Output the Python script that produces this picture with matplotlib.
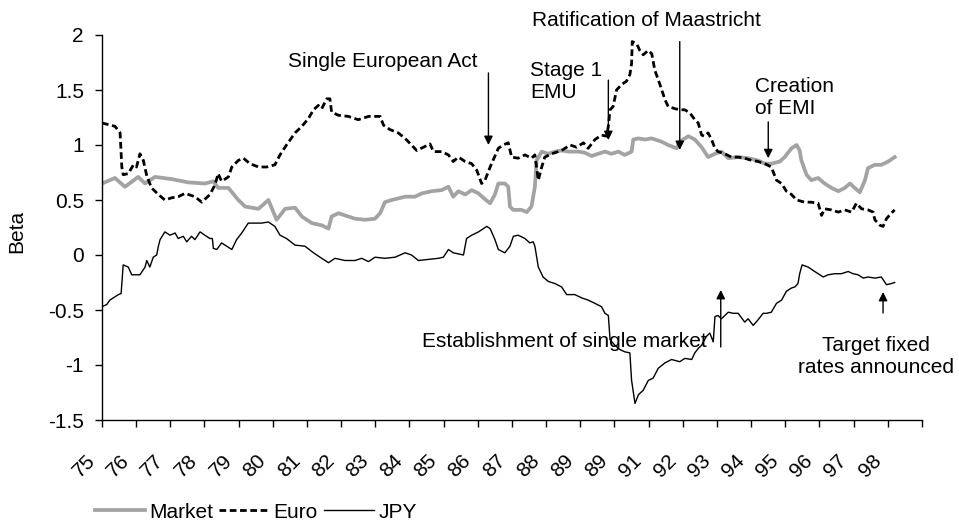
import matplotlib
matplotlib.use("Agg")
import matplotlib.pyplot as plt
import matplotlib.transforms as mtransforms
from matplotlib.lines import Line2D

plt.rcParams['font.family'] = ['Liberation Sans', 'DejaVu Sans']

# ---------------- data ----------------
year_ticks = list(range(75, 100))
year_labels = ['75', '76', '77', '78', '79', '80', '81', '82', '83', '84', '85',
               '86', '87', '88', '89', '89', '91', '92', '93', '94', '95', '96',
               '97', '98', '']

market_t = [75.00, 75.38, 75.67, 76.06, 76.26, 76.55, 77.04, 77.53, 78.01, 78.26,
            78.40, 78.70, 78.99, 79.19, 79.58, 79.87, 80.11, 80.36, 80.65, 80.85,
            81.14, 81.43, 81.63, 81.72, 81.92, 82.11, 82.41, 82.70, 82.99, 83.14,
            83.28, 83.48, 83.87, 84.16, 84.36, 84.65, 84.94, 85.14, 85.28, 85.43,
            85.63, 85.82, 86.02, 86.16, 86.36, 86.50, 86.60, 86.79, 86.89, 86.94,
            87.04, 87.28, 87.43, 87.57, 87.67, 87.72, 87.87, 88.06, 88.26, 88.45,
            88.65, 88.94, 89.13, 89.33, 89.52, 89.72, 89.91, 90.11, 90.30, 90.50,
            90.55, 90.70, 90.89, 91.09, 91.38, 91.57, 91.82, 91.91, 92.16, 92.35,
            92.55, 92.74, 92.94, 93.13, 93.33, 93.62, 93.91, 94.20, 94.40, 94.59,
            94.84, 94.98, 95.18, 95.33, 95.42, 95.47, 95.62, 95.76, 95.96, 96.15,
            96.35, 96.55, 96.74, 96.89, 97.03, 97.18, 97.33, 97.42, 97.62, 97.81,
            98.01, 98.20]
market_beta = [0.65, 0.70, 0.62, 0.71, 0.65, 0.71, 0.69, 0.66, 0.65, 0.67,
               0.61, 0.61, 0.50, 0.44, 0.42, 0.50, 0.32, 0.42, 0.43, 0.35,
               0.29, 0.27, 0.24, 0.35, 0.38, 0.36, 0.33, 0.32, 0.33, 0.38,
               0.48, 0.50, 0.53, 0.53, 0.56, 0.58, 0.59, 0.62, 0.53, 0.58,
               0.55, 0.59, 0.56, 0.52, 0.47, 0.55, 0.65, 0.65, 0.62, 0.44,
               0.41, 0.41, 0.39, 0.44, 0.62, 0.86, 0.94, 0.92, 0.94, 0.95,
               0.94, 0.94, 0.93, 0.90, 0.92, 0.94, 0.92, 0.94, 0.91, 0.94,
               1.05, 1.06, 1.05, 1.06, 1.03, 1.00, 0.97, 1.03, 1.08, 1.05,
               0.98, 0.89, 0.92, 0.94, 0.88, 0.89, 0.88, 0.86, 0.83, 0.83,
               0.85, 0.89, 0.97, 1.00, 0.95, 0.86, 0.73, 0.68, 0.70, 0.65,
               0.61, 0.58, 0.61, 0.65, 0.61, 0.57, 0.68, 0.79, 0.82, 0.82,
               0.85, 0.89]

euro_t = [75.00, 75.38, 75.53, 75.56, 75.58, 75.62, 75.77, 75.92, 76.01, 76.11,
          76.21, 76.31, 76.45, 76.65, 76.84, 77.04, 77.23, 77.43, 77.72, 77.92,
          78.16, 78.31, 78.40, 78.50, 78.70, 78.80, 78.99, 79.14, 79.33, 79.58,
          79.82, 80.06, 80.21, 80.40, 80.65, 80.85, 81.04, 81.19, 81.33, 81.43,
          81.58, 81.67, 81.72, 81.92, 82.21, 82.50, 82.80, 83.14, 83.24, 83.43,
          83.67, 83.87, 84.06, 84.21, 84.41, 84.60, 84.70, 84.94, 85.14, 85.28,
          85.43, 85.63, 85.82, 85.97, 86.11, 86.21, 86.36, 86.50, 86.60, 86.74,
          86.89, 86.99, 87.18, 87.38, 87.57, 87.67, 87.77, 87.87, 87.96, 88.16,
          88.45, 88.70, 88.89, 89.09, 89.23, 89.43, 89.62, 89.77, 89.82, 89.87,
          89.96, 90.06, 90.21, 90.35, 90.45, 90.50, 90.52, 90.65, 90.74, 90.84,
          90.99, 91.09, 91.18, 91.33, 91.48, 91.57, 91.77, 91.91, 92.06, 92.21,
          92.35, 92.45, 92.55, 92.64, 92.74, 92.84, 92.94, 93.03, 93.23, 93.42,
          93.62, 93.81, 94.01, 94.20, 94.40, 94.59, 94.74, 94.89, 95.03, 95.18,
          95.33, 95.57, 95.76, 95.96, 96.06, 96.15, 96.35, 96.55, 96.74, 96.94,
          97.08, 97.23, 97.42, 97.57, 97.62, 97.77, 97.86, 97.96, 98.10, 98.20]
euro_beta = [1.20, 1.17, 1.11, 0.92, 0.80, 0.73, 0.74, 0.82, 0.80, 0.92,
             0.86, 0.72, 0.61, 0.55, 0.50, 0.52, 0.53, 0.56, 0.53, 0.48,
             0.55, 0.64, 0.74, 0.67, 0.71, 0.80, 0.86, 0.88, 0.83, 0.80,
             0.80, 0.82, 0.91, 1.00, 1.11, 1.17, 1.24, 1.32, 1.36, 1.33,
             1.42, 1.42, 1.30, 1.27, 1.26, 1.23, 1.26, 1.26, 1.18, 1.14,
             1.11, 1.06, 1.00, 0.95, 0.98, 1.01, 0.94, 0.94, 0.91, 0.85,
             0.89, 0.85, 0.83, 0.77, 0.65, 0.68, 0.80, 0.90, 0.97, 1.00,
             1.02, 0.89, 0.88, 0.91, 0.88, 0.91, 0.68, 0.80, 0.89, 0.92,
             0.95, 1.00, 0.98, 1.02, 0.97, 1.05, 1.09, 1.08, 1.17, 1.32,
             1.35, 1.50, 1.55, 1.58, 1.64, 1.74, 1.94, 1.92, 1.86, 1.82,
             1.86, 1.83, 1.68, 1.55, 1.41, 1.35, 1.33, 1.32, 1.32, 1.29,
             1.23, 1.20, 1.09, 1.08, 1.11, 1.05, 0.97, 0.94, 0.92, 0.89,
             0.89, 0.88, 0.86, 0.85, 0.83, 0.80, 0.68, 0.65, 0.58, 0.55,
             0.50, 0.48, 0.48, 0.47, 0.36, 0.42, 0.41, 0.39, 0.41, 0.39,
             0.47, 0.42, 0.41, 0.39, 0.32, 0.27, 0.26, 0.33, 0.38, 0.41]

jpy_t = [75.00, 75.14, 75.23, 75.48, 75.56, 75.62, 75.77, 75.87, 76.11, 76.26,
         76.31, 76.40, 76.50, 76.60, 76.65, 76.70, 76.84, 76.99, 77.14, 77.23,
         77.38, 77.48, 77.62, 77.72, 77.87, 78.01, 78.16, 78.23, 78.26, 78.36,
         78.50, 78.65, 78.80, 78.94, 79.09, 79.28, 79.48, 79.67, 79.87, 80.06,
         80.21, 80.40, 80.65, 80.94, 81.19, 81.43, 81.63, 81.82, 82.11, 82.41,
         82.60, 82.80, 82.99, 83.28, 83.58, 83.87, 84.06, 84.26, 84.55, 84.85,
         84.99, 85.14, 85.28, 85.58, 85.67, 85.82, 86.02, 86.26, 86.36, 86.50,
         86.60, 86.79, 86.94, 87.04, 87.18, 87.38, 87.52, 87.62, 87.67, 87.77,
         87.91, 88.06, 88.26, 88.45, 88.60, 88.84, 89.04, 89.23, 89.43, 89.62,
         89.72, 89.82, 89.87, 90.01, 90.16, 90.30, 90.45, 90.50, 90.60, 90.70,
         90.84, 90.99, 91.13, 91.28, 91.48, 91.67, 91.91, 92.06, 92.26, 92.35,
         92.45, 92.55, 92.69, 92.79, 92.89, 92.94, 93.03, 93.13, 93.33, 93.47,
         93.62, 93.81, 93.91, 94.06, 94.20, 94.35, 94.45, 94.59, 94.74, 94.89,
         95.03, 95.18, 95.28, 95.37, 95.42, 95.49, 95.67, 95.86, 96.11, 96.25,
         96.45, 96.64, 96.84, 96.98, 97.13, 97.28, 97.42, 97.62, 97.81, 97.96,
         98.10, 98.20]
jpy_beta = [-0.47, -0.45, -0.41, -0.36, -0.35, -0.09, -0.11, -0.18, -0.18, -0.11,
            -0.05, -0.11, -0.02, 0.00, 0.08, 0.14, 0.21, 0.18, 0.20, 0.15,
            0.17, 0.12, 0.17, 0.14, 0.21, 0.18, 0.15, 0.15, 0.06, 0.05,
            0.11, 0.08, 0.05, 0.14, 0.20, 0.29, 0.29, 0.29, 0.30, 0.26,
            0.18, 0.15, 0.09, 0.08, 0.02, -0.03, -0.07, -0.03, -0.05, -0.05,
            -0.03, -0.06, -0.02, -0.03, -0.02, 0.02, 0.00, -0.05, -0.04, -0.03,
            -0.02, 0.05, 0.02, 0.00, 0.15, 0.18, 0.21, 0.26, 0.24, 0.14,
            0.05, 0.02, 0.08, 0.17, 0.18, 0.15, 0.11, 0.12, 0.08, -0.11,
            -0.20, -0.24, -0.26, -0.29, -0.36, -0.36, -0.39, -0.41, -0.44, -0.47,
            -0.53, -0.55, -0.77, -0.82, -0.86, -0.88, -0.89, -1.14, -1.35, -1.27,
            -1.23, -1.14, -1.12, -1.03, -0.98, -0.95, -0.97, -0.94, -0.95, -0.89,
            -0.85, -0.82, -0.74, -0.71, -0.79, -0.56, -0.55, -0.58, -0.52, -0.53,
            -0.53, -0.61, -0.58, -0.64, -0.59, -0.53, -0.53, -0.52, -0.44, -0.41,
            -0.33, -0.30, -0.29, -0.26, -0.17, -0.09, -0.11, -0.15, -0.20, -0.18,
            -0.17, -0.17, -0.15, -0.17, -0.18, -0.21, -0.20, -0.21, -0.20, -0.27,
            -0.26, -0.25]

# annotations: (text, text_x, text_y, ha, arrow_x, arrow_tail_y, arrow_tip_y)
events = [
    ("Single European Act", 80.44, 1.755, 'left', 86.31, 1.655, 1.00),
    ("Ratification of Maastricht", 87.58, 2.136, 'left', 91.91, 1.94, 0.955),
    ("Stage 1\nEMU", 87.53, 1.577, 'left', 89.82, 1.59, 1.045),
    ("Creation\nof EMI", 94.11, 1.432, 'left', 94.50, 1.21, 0.88),
    ("Establishment of single market", 92.71, -0.79, 'right', 93.11, -0.836, -0.318),
    ("Target fixed\nrates announced", 97.65, -0.923, 'center', 97.86, -0.527, -0.336),
]

FS = 15

# ---------------- figure ----------------
fig = plt.figure(figsize=(9.59, 5.26), dpi=100)
ax = fig.add_axes([102 / 959, 1 - 420 / 526, 820 / 959, 385 / 526])

mkt_color = '#a3a3a3'
ax.plot(market_t, market_beta, color=mkt_color, lw=2.7, solid_joinstyle='round', zorder=2)
ax.plot(euro_t, euro_beta, color='black', lw=2.0, linestyle=(0, (2.4, 1.3)), zorder=3)
ax.plot(jpy_t, jpy_beta, color='black', lw=1.0, zorder=4)

ax.set_xlim(75, 99)
ax.set_ylim(-1.5, 2)
ax.set_yticks([-1.5, -1, -0.5, 0, 0.5, 1, 1.5, 2])
ax.set_yticklabels(['-1.5', '-1', '-0.5', '0', '0.5', '1', '1.5', '2'])
ax.set_xticks(year_ticks)
ax.set_xticklabels(year_labels)

for s in ['top', 'right']:
    ax.spines[s].set_visible(False)
for s in ['left', 'bottom']:
    ax.spines[s].set_linewidth(1.0)
    ax.spines[s].set_color('black')

ax.tick_params(axis='y', direction='out', length=5, width=1, pad=8, labelsize=FS)
ax.tick_params(axis='x', direction='out', length=5, width=1, pad=17, labelsize=FS)

offset = mtransforms.ScaledTranslation(-3 / 100, 0, fig.dpi_scale_trans)
for lbl in ax.get_xticklabels():
    lbl.set_rotation(45)
    lbl.set_ha('right')
    lbl.set_va('top')
    lbl.set_transform(lbl.get_transform() + offset)

ax.set_ylabel('Beta', fontsize=FS)
ax.yaxis.set_label_coords(-0.092, 0.49)

for txt, tx, ty, ha, axx, y0, y1 in events:
    ax.text(tx, ty, txt, ha=ha, va='center', fontsize=FS, linespacing=1.25,
            clip_on=False, zorder=6)
    ax.annotate('', xy=(axx, y1), xytext=(axx, y0),
                arrowprops=dict(arrowstyle='-|>', color='black', lw=1.0,
                                mutation_scale=13, shrinkA=0, shrinkB=0),
                zorder=6)

handles = [Line2D([], [], color=mkt_color, lw=2.7),
           Line2D([], [], color='black', lw=2.0, linestyle=(0, (2.4, 1.3))),
           Line2D([], [], color='black', lw=1.0)]
fig.legend(handles, ['Market', 'Euro', 'JPY'], loc='center left',
           bbox_to_anchor=(95 / 959, 1 - 512 / 526), ncol=3, frameon=False,
           fontsize=FS, handlelength=2.4, handletextpad=0.2, columnspacing=0.3,
           borderpad=0, borderaxespad=0)

fig.savefig('out.png', dpi=100)
